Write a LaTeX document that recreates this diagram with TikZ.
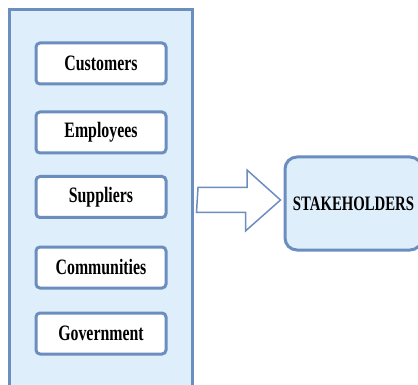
\documentclass[tikz,border=0pt]{standalone}
\usepackage{fontspec}
\newfontfamily\labelfont{Liberation Serif}[FakeStretch=0.72]
\usetikzlibrary{calc}

\definecolor{edgeblue}{RGB}{108,142,191}
\definecolor{paleblue}{RGB}{222,239,251}

\tikzset{
    panelbox/.style={draw=edgeblue, line width=3pt, fill=paleblue, minimum width=183pt, minimum height=385pt},
    itembox/.style={draw=edgeblue, line width=3pt, fill=white, rounded corners=4pt, minimum width=130pt, minimum height=41pt,
        font=\labelfont\bfseries\fontsize{22}{24}\selectfont},
    hubbox/.style={draw=edgeblue, line width=3pt, fill=paleblue, rounded corners=12pt, minimum width=137pt, minimum height=93pt,
        font=\labelfont\bfseries\fontsize{20.5}{24}\selectfont},
    blockarrow/.style={draw=edgeblue, line width=1.5pt, fill=white, line join=miter}
}

\begin{document}
\begin{tikzpicture}[x=1pt, y=-1pt]
        \useasboundingbox (0,0) rectangle (418,385);
        \clip (0,0) rectangle (418,385);
        % left panel with the groups
        \node[panelbox] (panel) at (100.5,202.5) {};
        \node[itembox] (customers) at (101,63.5) {Customers};
        \node[itembox] (employees) at (101,132.5) {Employees};
        \node[itembox] (suppliers) at (101,197) {Suppliers};
        \node[itembox] (communities) at (101,267.5) {Communities};
        \node[itembox] (government) at (101,333.5) {Government};
        % right box
        \node[hubbox] (hub) at (353.5,203.5) {STAKEHOLDERS};
        % block arrow
        \coordinate (tail) at (198,200);
        \coordinate (tip) at ([xshift=-3pt,yshift=3.5pt]hub.west);
        \draw[blockarrow] (tail) ++(0,-12.5) -- ++(49,0) -- ++(0,-17.5) -- (tip) -- ++(-35,31) -- ++(0,-18.5) -- ++(-49,0) -- cycle;
    \end{tikzpicture}
\end{document}
